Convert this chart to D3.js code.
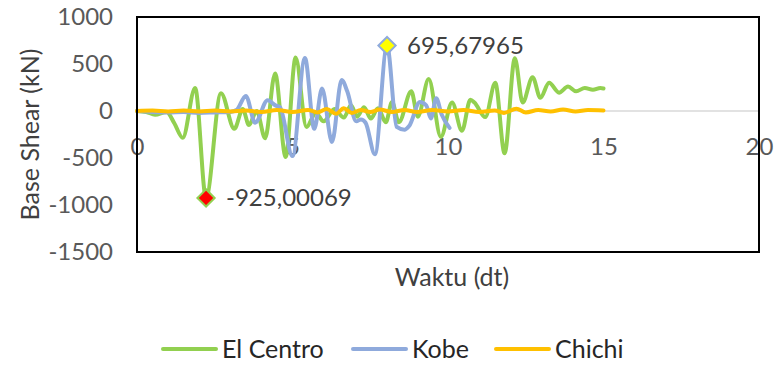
<!DOCTYPE html>
<html>
<head>
<meta charset="utf-8">
<script src="https://cdn.jsdelivr.net/npm/d3@7"></script>
<style>
  html, body { margin: 0; padding: 0; background: #fff; }
  svg { display: block; font-family: Lato, "Open Sans", sans-serif; }
</style>
</head>
<body>
<svg id="chart" width="776" height="365"></svg>
<script>
// Base shear time histories (kN) against time (s)
const elCentro = [
  [0, 0], [0.3, -10], [0.58, -40], [0.95, -10], [1.2, -130], [1.47, -285],
  [1.87, 245], [2.22, -925.00069], [2.7, 190], [3.13, -190], [3.4, 20],
  [3.6, -150], [3.85, 0], [4.12, -290], [4.44, 400], [4.78, -490], [5.1, 570],
  [5.45, -170], [5.75, -20], [6.0, -110], [6.35, 20], [6.65, -70], [6.88, 60],
  [7.08, -60], [7.3, 40], [7.52, -80], [7.75, 30], [8.0, -120], [8.2, 95],
  [8.42, -120], [8.82, 210], [9.03, -60], [9.38, 340], [9.77, -275],
  [10.13, 90], [10.45, -210], [10.72, 120], [10.85, 90], [11.2, -65],
  [11.52, 300], [11.82, -450], [12.15, 560], [12.4, 90], [12.72, 360],
  [12.97, 140], [13.25, 300], [13.57, 195], [13.86, 260], [14.12, 210],
  [14.4, 245], [14.66, 225], [14.9, 245], [15, 240]
];
const kobe = [
  [0, 0], [0.5, -10], [1, -15], [1.5, -10], [2, -20], [2.5, -15], [3.0, -10],
  [3.2, 10], [3.5, 160], [3.8, -125], [4.2, 115], [4.45, 60], [4.6, 40],
  [5.0, -480], [5.4, 565], [5.7, -190], [5.95, 240], [6.27, -330], [6.58, 330],
  [6.76, 210], [7.05, -110], [7.2, -90], [7.35, -125], [7.65, -460],
  [8.04, 695.67965], [8.35, -170], [8.6, -200], [8.75, -160], [9.1, 95],
  [9.3, 60], [9.45, -80], [9.62, 135], [9.8, -40], [10.05, -180]
];
const chichi = [
  [0, 0], [0.5, 5], [1, -5], [1.5, 5], [2, -5], [2.5, 5], [3, -5], [3.5, 5],
  [4, -10], [4.5, 10], [5, -10], [5.5, 10], [5.8, -15], [6.1, 20], [6.4, -30],
  [6.65, 30], [6.9, -20], [7.2, 10], [7.5, -10], [7.8, 15], [8.2, -10],
  [8.6, 10], [9, -10], [9.5, 10], [10, -5], [10.5, 10], [11, -10], [11.5, 5],
  [11.8, -20], [12.2, 25], [12.5, -15], [12.9, 10], [13.3, -5], [13.7, 15],
  [14.1, -5], [14.5, 10], [15, 5]
];

const seriesNames = ["El Centro", "Kobe", "Chichi"];
const xTicks = [0, 5, 10, 15, 20];
const yTicks = [1000, 500, 0, -500, -1000, -1500];

const colors = { "El Centro": "#92D050", "Kobe": "#8FAADC", "Chichi": "#FFC000" };
const seriesData = { "El Centro": elCentro, "Kobe": kobe, "Chichi": chichi };

const svg = d3.select("#chart");
const plot = { left: 137, right: 759, top: 17, bottom: 252 };

const x = d3.scaleLinear().domain([0, 20]).range([plot.left, plot.right]);
const y = d3.scaleLinear().domain([-1500, 1000]).range([plot.bottom, plot.top]);

// zero line
svg.append("line")
  .attr("x1", x(0)).attr("x2", x(20))
  .attr("y1", y(0)).attr("y2", y(0))
  .attr("stroke", "#D9D9D9").attr("stroke-width", 1.5);

// y axis labels
const yAxis = svg.append("g")
  .attr("transform", `translate(${plot.left},0)`)
  .call(d3.axisLeft(y).tickValues(yTicks).tickFormat(d => String(d)).tickSize(0).tickPadding(24));
yAxis.select(".domain").remove();
yAxis.selectAll("text")
  .attr("fill", "#595959").style("font-size", "24px")
  .style("font-family", "Lato, 'Open Sans', sans-serif");

// x axis labels sit below the zero line
const xAxis = svg.append("g")
  .attr("transform", `translate(0,${y(0)})`)
  .call(d3.axisBottom(x).tickValues(xTicks).tickFormat(d => String(d)).tickSize(0).tickPadding(27));
xAxis.select(".domain").remove();
xAxis.selectAll("text")
  .attr("fill", "#595959").style("font-size", "24px")
  .style("font-family", "Lato, 'Open Sans', sans-serif");

// series lines
const line = d3.line()
  .x(d => x(d[0]))
  .y(d => y(d[1]))
  .curve(d3.curveMonotoneX);

seriesNames.forEach(name => {
  svg.append("path")
    .datum(seriesData[name])
    .attr("fill", "none")
    .attr("stroke", colors[name])
    .attr("stroke-width", 4)
    .attr("stroke-linejoin", "round")
    .attr("stroke-linecap", "round")
    .attr("d", line);
});

// extreme-value markers with labels
const fmt = v => String(v).replace(".", ",");
const minPt = elCentro.reduce((a, b) => (b[1] < a[1] ? b : a));
const maxPt = kobe.reduce((a, b) => (b[1] > a[1] ? b : a));
const markers = [
  { pt: minPt, fill: "#FF0000", stroke: "#92D050" },
  { pt: maxPt, fill: "#FFFF00", stroke: "#8FAADC" }
];
const diamond = d3.symbol().type(d3.symbolDiamond2).size(190);
markers.forEach(m => {
  svg.append("path")
    .attr("d", diamond())
    .attr("transform", `translate(${x(m.pt[0])},${y(m.pt[1])})`)
    .attr("fill", m.fill)
    .attr("stroke", m.stroke)
    .attr("stroke-width", 2);
  svg.append("text")
    .attr("x", x(m.pt[0]) + 20)
    .attr("y", y(m.pt[1]))
    .attr("dy", "0.35em")
    .attr("fill", "#404040")
    .style("font-size", "24px")
    .text(fmt(m.pt[1]));
});

// plot border
svg.append("rect")
  .attr("x", plot.left).attr("y", plot.top)
  .attr("width", plot.right - plot.left).attr("height", plot.bottom - plot.top)
  .attr("fill", "none").attr("stroke", "#000").attr("stroke-width", 2);

// axis titles
svg.append("text")
  .attr("transform", `translate(30,${(plot.top + plot.bottom) / 2}) rotate(-90)`)
  .attr("text-anchor", "middle").attr("dy", "0.35em")
  .attr("fill", "#404040").style("font-size", "25px")
  .text("Base Shear (kN)");

svg.append("text")
  .attr("x", (plot.left + plot.right) / 2 + 4).attr("y", 277)
  .attr("text-anchor", "middle").attr("dy", "0.35em")
  .attr("fill", "#404040").style("font-size", "25px")
  .text("Waktu (dt)");

// legend
const legendX = [163, 353, 496];
const legend = svg.append("g");
seriesNames.forEach((name, i) => {
  const g = legend.append("g").attr("transform", `translate(${legendX[i]},349)`);
  g.append("line").attr("x1", 0).attr("x2", 53).attr("y1", 0).attr("y2", 0)
    .attr("stroke", colors[name]).attr("stroke-width", 4).attr("stroke-linecap", "round");
  g.append("text").attr("x", 59).attr("dy", "0.35em")
    .attr("fill", "#262626").style("font-size", "25px")
    .text(name);
});
</script>
</body>
</html>
